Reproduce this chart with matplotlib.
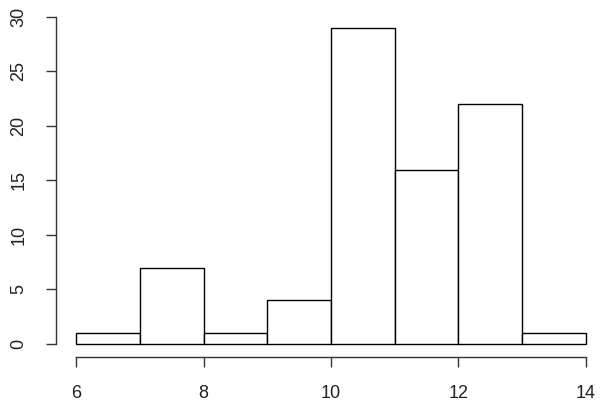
import numpy as np
import matplotlib
matplotlib.use("Agg")
import matplotlib.pyplot as plt

plt.rcParams["font.family"] = ["Liberation Sans", "DejaVu Sans"]

bin_edges = [6, 7, 8, 9, 10, 11, 12, 13, 14]
counts = [1, 7, 1, 4, 29, 16, 22, 1]
x_ticks = [6, 8, 10, 12, 14]
y_ticks = [0, 5, 10, 15, 20, 25, 30]

fig = plt.figure(figsize=(6.14, 4.2), dpi=100)
ax = fig.add_axes([0.0906, 0.151, 0.897, 0.8127])

lefts = np.array(bin_edges[:-1])
widths = np.diff(bin_edges)
ax.bar(lefts, counts, width=widths, align="edge", facecolor="white",
       edgecolor="black", linewidth=1.0)

ax.set_xlim(5.68, 14.32)
ax.set_ylim(-1.16, 30.16)
for s in ["top", "right"]:
    ax.spines[s].set_visible(False)
ax.spines["left"].set_bounds(0, 30)
ax.spines["bottom"].set_bounds(6, 14)
for s in ["left", "bottom"]:
    ax.spines[s].set_color("#333333")
    ax.spines[s].set_linewidth(1.0)

ax.set_xticks(x_ticks)
ax.set_yticks(y_ticks)
ax.tick_params(axis="both", length=7.5, width=1.0, color="#333333",
               labelsize=13, labelcolor="#222222")
ax.tick_params(axis="x", pad=13)
ax.tick_params(axis="y", pad=13)
for lab in ax.get_yticklabels():
    lab.set_rotation(90)
    lab.set_va("center")

fig.savefig("out.png", dpi=100)
